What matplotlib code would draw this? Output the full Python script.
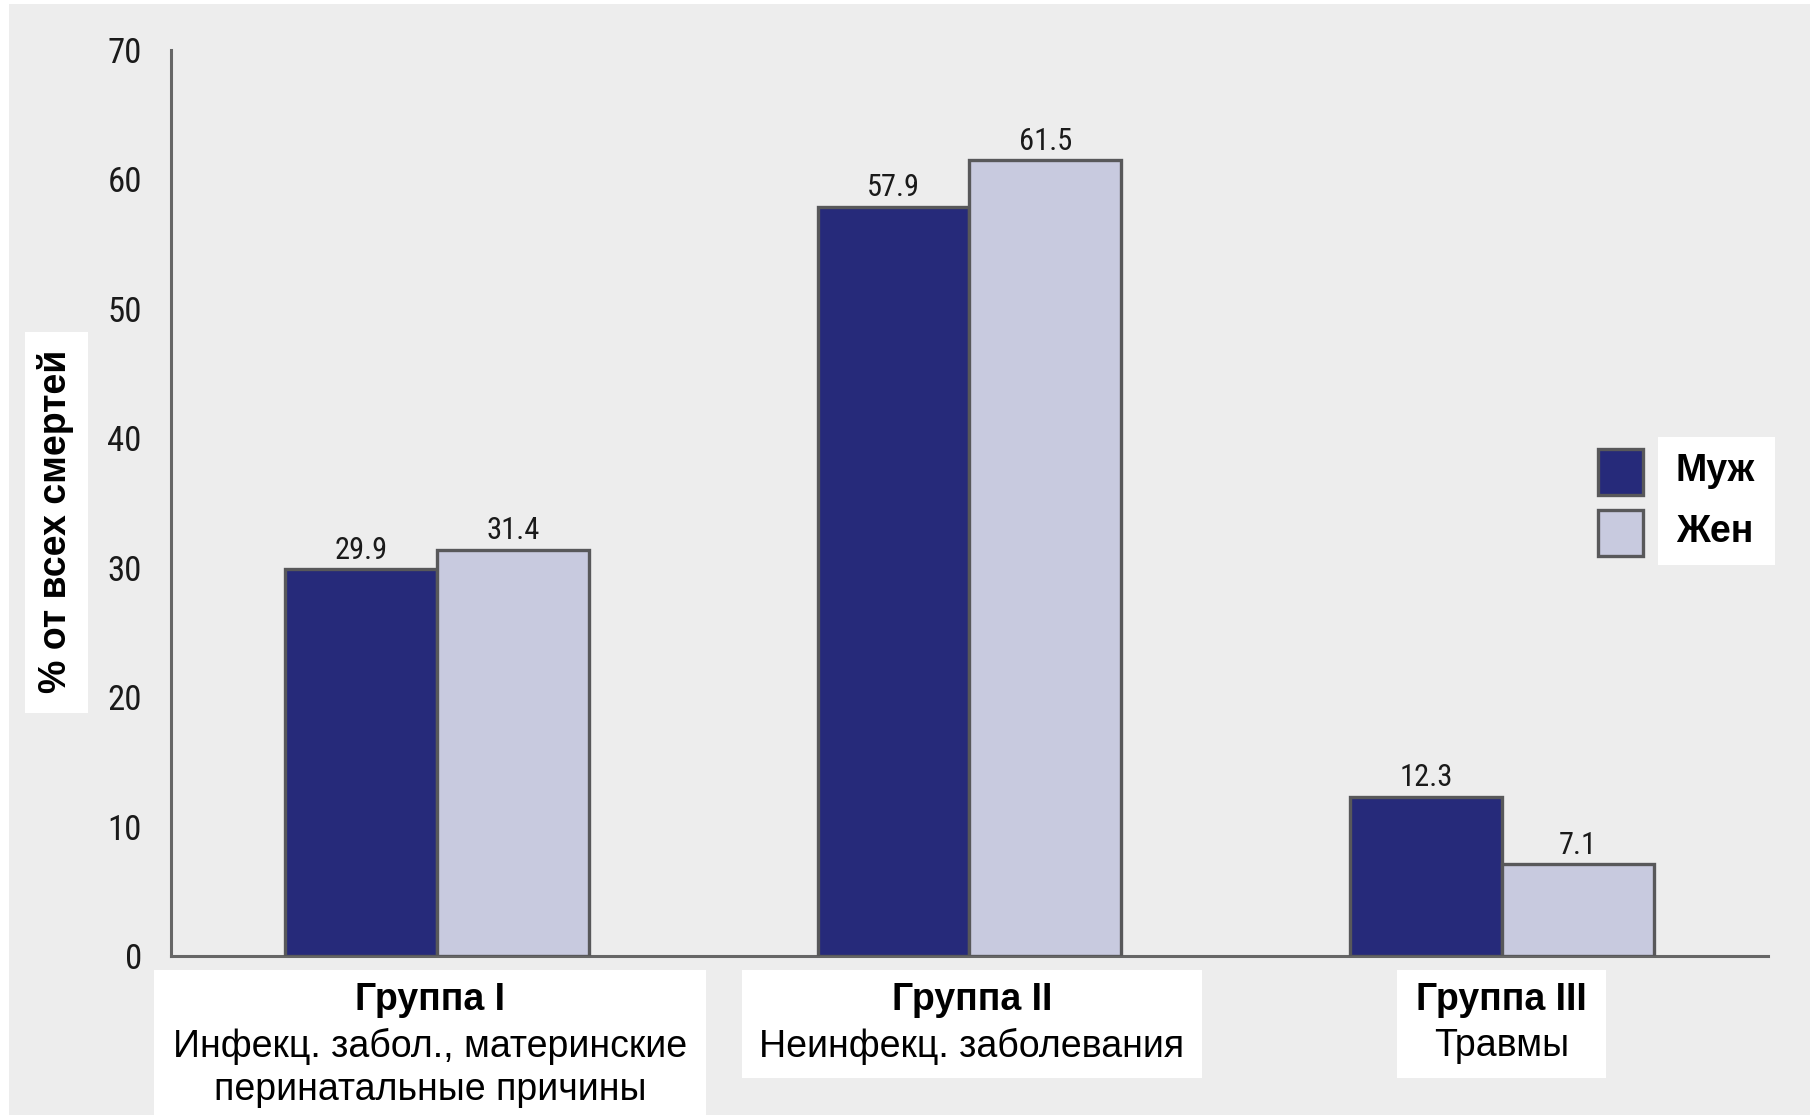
import numpy as np
import matplotlib
matplotlib.use("Agg")
import matplotlib.pyplot as plt
from matplotlib.patches import Rectangle
from matplotlib import font_manager
from matplotlib.font_manager import FontProperties

# ---- data -------------------------------------------------------------
categories = ["Группа I", "Группа II", "Группа III"]
subtitles = [
    ["Инфекц. забол., материнские", "перинатальные причины"],
    ["Неинфекц. заболевания"],
    ["Травмы"],
]
series_names = ["Муж", "Жен"]
male = [29.9, 57.9, 12.3]
female = [31.4, 61.5, 7.1]
yticks = [0, 10, 20, 30, 40, 50, 60, 70]
ylabel = "% от всех смертей"

# ---- styling ------------------------------------------------------------
colors = ["#262a7a", "#c8cadf"]
edge = "#58585a"
bg = "#ededed"
W, H = 1818, 1116

installed = {f.name for f in font_manager.fontManager.ttflist}
sans = "Liberation Sans" if "Liberation Sans" in installed else "DejaVu Sans"


def condensed_font():
    """Pick a narrow sans face for the numeric labels, if one is available."""
    for name in ("Liberation Sans Narrow", "Roboto Condensed", "Open Sans Condensed",
                 "DejaVu Sans Condensed", "Noto Sans Condensed", "Arial Narrow"):
        if name in installed:
            return FontProperties(family=name)
    cands = []
    for f in font_manager.fontManager.ttflist:
        fn = f.fname.lower()
        narrowish = (f.stretch in ("condensed", "semi-condensed", "extra-condensed")
                     or "condensed" in fn or "narrow" in fn)
        if narrowish and f.style == "normal" and f.weight in (400, "normal", "regular", "book"):
            score = 0 if "sans" in f.name.lower() else 1
            cands.append((score, f.fname))
    if cands:
        cands.sort()
        return FontProperties(fname=cands[0][1])
    return FontProperties(family=sans)


num_fp = condensed_font()

fig = plt.figure(figsize=(W / 100, H / 100), dpi=100)
fig.patch.set_facecolor("white")


def fx(x):
    return x / W


def fy(y):
    return 1 - y / H


def px_rect(x0, y0, x1, y1, **kw):
    r = Rectangle((fx(x0), fy(y1)), (x1 - x0) / W, (y1 - y0) / H,
                  transform=fig.transFigure, **kw)
    fig.patches.append(r)
    return r


# grey panel behind everything
px_rect(9, 4, 1810, 1115, facecolor=bg, edgecolor="none", zorder=-10)

ax = fig.add_axes([fx(171), fy(956), (1768 - 171) / W, (956 - 50) / H])
ax.patch.set_visible(False)

x = np.arange(len(categories))
w = 0.285
ax.bar(x - w / 2, male, w, color=colors[0], edgecolor=edge, linewidth=2.4, zorder=3)
ax.bar(x + w / 2, female, w, color=colors[1], edgecolor=edge, linewidth=2.4, zorder=3)

val_fp = num_fp.copy()
val_fp.set_size(22)
for xs, vals in ((x - w / 2, male), (x + w / 2, female)):
    for xi, v in zip(xs, vals):
        ax.annotate(f"{v}", (xi, v), xytext=(0, 7.5), textcoords="offset points",
                    ha="center", va="baseline", fontproperties=val_fp, color="#1a1a1a")

ax.set_xlim(-0.5, 2.5)
ax.set_ylim(0, 70)
ax.set_yticks(yticks)
tick_fp = num_fp.copy()
tick_fp.set_size(25)
ax.set_yticklabels([str(t) for t in yticks], fontproperties=tick_fp, color="#1a1a1a")
ax.tick_params(axis="y", length=0, pad=21)
ax.set_xticks([])
for s in ("top", "right"):
    ax.spines[s].set_visible(False)
for s in ("left", "bottom"):
    ax.spines[s].set_color("#666666")
    ax.spines[s].set_linewidth(2.2)

# y-axis title on a white card
px_rect(25, 332, 88, 713, facecolor="white", edgecolor="none", zorder=-5)
fig.text(fx(56), fy(521), ylabel, rotation=90, ha="center", va="center",
         fontsize=27, fontweight="bold", family=sans, color="black")

# category captions on white cards
boxes = [(154, 970, 706, 1116), (742, 970, 1202, 1078), (1397, 970, 1606, 1078)]
for (x0, y0, x1, y1), title, lines in zip(boxes, categories, subtitles):
    px_rect(x0, y0, x1, y1, facecolor="white", edgecolor="none", zorder=-5)
    cx = (x0 + x1) / 2
    fig.text(fx(cx), fy(1000), title, ha="center", va="center", fontsize=27,
             fontweight="bold", family=sans, color="black")
    for i, line in enumerate(lines):
        fig.text(fx(cx), fy(1046 + i * 44), line, ha="center", va="center",
                 fontsize=27, family=sans, color="black")

# legend
px_rect(1658, 437, 1775, 565, facecolor="white", edgecolor="none", zorder=-5)
for i, (name, c) in enumerate(zip(series_names, colors)):
    top = 449 + i * 61
    px_rect(1598, top, 1643, top + 46, facecolor=c, edgecolor=edge, linewidth=2.4, zorder=5)
    fig.text(fx(1676), fy(top + 22), name, ha="left", va="center", fontsize=27,
             fontweight="bold", family=sans, color="black", zorder=6)

fig.savefig("out.png", dpi=100, facecolor=fig.get_facecolor())
